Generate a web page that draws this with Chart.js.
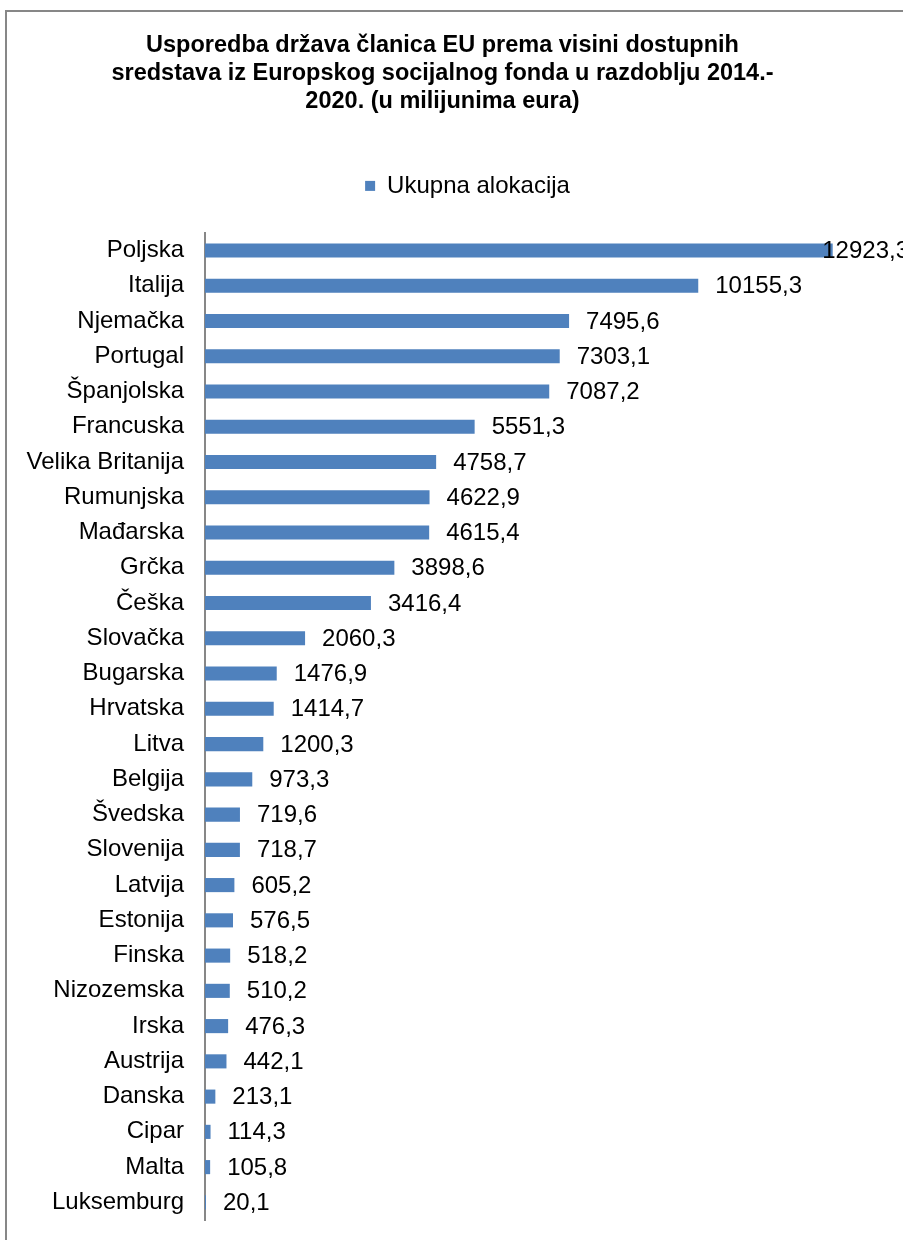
<!DOCTYPE html>
<html>
<head>
<meta charset="utf-8">
<script src="https://cdn.jsdelivr.net/npm/chart.js@4.4.0/dist/chart.umd.min.js"></script>
<style>
  html, body { margin: 0; padding: 0; background: #ffffff; }
  #wrap { position: relative; width: 903px; height: 1240px; overflow: hidden; }
  #frame { position: absolute; left: 5px; top: 10px; width: 1000px; height: 1400px; border: 2px solid #878787; box-sizing: border-box; }
  canvas { position: absolute; left: 0; top: 0; }
</style>
</head>
<body>
<div id="wrap">
  <div id="frame"></div>
  <canvas id="c" width="903" height="1240"></canvas>
</div>
<script>
const titleLines = [
  "Usporedba država članica EU prema visini dostupnih",
  "sredstava iz Europskog socijalnog fonda u razdoblju 2014.-",
  "2020. (u milijunima eura)"
];
const seriesName = "Ukupna alokacija";
const categories = [
  "Poljska", "Italija", "Njemačka", "Portugal", "Španjolska", "Francuska",
  "Velika Britanija", "Rumunjska", "Mađarska", "Grčka", "Češka", "Slovačka",
  "Bugarska", "Hrvatska", "Litva", "Belgija", "Švedska", "Slovenija",
  "Latvija", "Estonija", "Finska", "Nizozemska", "Irska", "Austrija",
  "Danska", "Cipar", "Malta", "Luksemburg"
];
const values = [
  12923.3, 10155.3, 7495.6, 7303.1, 7087.2, 5551.3,
  4758.7, 4622.9, 4615.4, 3898.6, 3416.4, 2060.3,
  1476.9, 1414.7, 1200.3, 973.3, 719.6, 718.7,
  605.2, 576.5, 518.2, 510.2, 476.3, 442.1,
  213.1, 114.3, 105.8, 20.1
];
const xMin = 0;
const xMax = 14000;

const FONT = "'Liberation Sans', Arial, sans-serif";
const LBL = 24;
const fmt = v => v.toFixed(1).replace('.', ',');

const dataLabels = {
  id: 'dataLabels',
  afterDatasetsDraw(chart) {
    const ctx = chart.ctx;
    const meta = chart.getDatasetMeta(0);
    ctx.save();
    ctx.font = LBL + "px " + FONT;
    ctx.fillStyle = "#000000";
    ctx.textBaseline = "middle";
    ctx.textAlign = "left";
    meta.data.forEach((bar, i) => {
      const txt = fmt(values[i]);
      const w = ctx.measureText(txt).width;
      let x = bar.x + 17;
      if (x + w > chart.width) x = chart.width - w + 6;
      ctx.fillText(txt, x, bar.y + 1);
    });
    ctx.restore();
  }
};

const legendGap = {
  id: 'legendGap',
  beforeInit(chart) {
    const lg = chart.legend;
    if (!lg) return;
    const orig = lg.fit;
    lg.fit = function () {
      orig.call(this);
      this.height += 25;
      if (this.lineWidths && this.lineWidths.length) this.lineWidths[0] -= 50;
    };
  }
};

new Chart(document.getElementById('c'), {
  type: 'bar',
  data: {
    labels: categories,
    datasets: [{
      label: seriesName,
      data: values,
      backgroundColor: '#4F81BD',
      borderWidth: 0,
      barPercentage: 0.8,
      categoryPercentage: 0.5
    }]
  },
  options: {
    indexAxis: 'y',
    responsive: false,
    animation: false,
    devicePixelRatio: 1,
    layout: { padding: { left: 0, right: 18, top: 22, bottom: 20 } },
    plugins: {
      title: {
        display: true,
        text: titleLines,
        color: '#000000',
        font: { family: FONT, size: 23.5, weight: 'bold', lineHeight: 1.19 },
        padding: { top: 10, bottom: 48 }
      },
      legend: {
        display: true,
        position: 'top',
        labels: {
          color: '#000000',
          font: { family: FONT, size: LBL },
          boxWidth: 10,
          boxHeight: 10,
          padding: 10,
          useBorderRadius: false
        }
      },
      tooltip: { enabled: false }
    },
    scales: {
      x: {
        display: false,
        min: xMin,
        max: xMax
      },
      y: {
        grid: {
          display: true,
          drawOnChartArea: false,
          drawTicks: true,
          tickLength: 20,
          color: 'rgba(0,0,0,0)',
          tickColor: 'rgba(0,0,0,0)'
        },
        border: { display: true, color: '#878787', width: 2 },
        ticks: {
          color: '#000000',
          font: { family: FONT, size: LBL },
          padding: 1,
          autoSkip: false
        },
        afterFit(scale) { scale.width = 205; }
      }
    }
  },
  plugins: [legendGap, dataLabels]
});
</script>
</body>
</html>
